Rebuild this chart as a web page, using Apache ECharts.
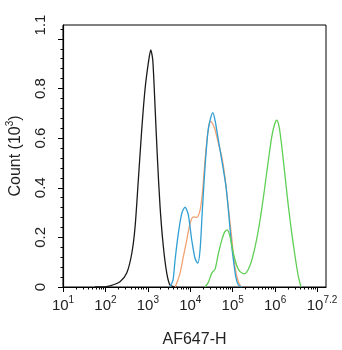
<!DOCTYPE html>
<html>
<head>
<meta charset="utf-8">
<script src="https://cdn.jsdelivr.net/npm/echarts@6/dist/echarts.min.js"></script>
<style>
  html, body { margin: 0; padding: 0; background: #fff; }
  #chart { width: 342px; height: 350px; }
</style>
</head>
<body>
<div id="chart"></div>
<script>
// x = log10(AF647-H intensity), y = count (10^3)
var blackX = [1.755, 1.873, 2.108, 2.344, 2.502, 2.620, 2.698, 2.776, 2.856, 2.934, 3.012, 3.068, 3.116, 3.170, 3.224, 3.288, 3.366, 3.446, 3.524, 3.682];
var blackY = [0, 0, 0.005, 0.021, 0.056, 0.134, 0.24, 0.432, 0.634, 0.797, 0.903, 0.956, 0.915, 0.727, 0.525, 0.324, 0.162, 0.056, 0.008, 0];

var orangeX = [3.642, 3.689, 3.759, 3.837, 3.917, 3.995, 4.073, 4.153, 4.231, 4.285, 4.349, 4.413, 4.467, 4.521, 4.585, 4.663, 4.743, 4.816, 4.894, 4.974, 5.052, 5.134, 5.198];
var orangeY = [0, 0.019, 0.056, 0.122, 0.189, 0.256, 0.283, 0.281, 0.31, 0.377, 0.512, 0.62, 0.667, 0.66, 0.634, 0.579, 0.525, 0.445, 0.327, 0.202, 0.082, 0.021, 0];

var blueX = [3.524, 3.594, 3.642, 3.719, 3.800, 3.877, 3.955, 4.035, 4.113, 4.177, 4.231, 4.285, 4.349, 4.413, 4.467, 4.531, 4.585, 4.649, 4.703, 4.781, 4.844, 4.899, 4.962, 5.017, 5.073, 5.134, 5.215];
var blueY = [0, 0.029, 0.109, 0.216, 0.297, 0.322, 0.29, 0.189, 0.115, 0.096, 0.149, 0.31, 0.485, 0.62, 0.672, 0.703, 0.672, 0.606, 0.552, 0.472, 0.403, 0.31, 0.189, 0.109, 0.041, 0.008, 0];

var greenX = [4.349, 4.427, 4.507, 4.585, 4.663, 4.743, 4.809, 4.873, 4.939, 5.017, 5.097, 5.175, 5.276, 5.410, 5.528, 5.646, 5.748, 5.842, 5.922, 5.983, 6.040, 6.094, 6.158, 6.236, 6.314, 6.394, 6.472, 6.550, 6.613];
var greenY = [0, 0.019, 0.056, 0.072, 0.135, 0.189, 0.221, 0.23, 0.202, 0.135, 0.086, 0.062, 0.053, 0.088, 0.162, 0.27, 0.391, 0.512, 0.606, 0.653, 0.672, 0.646, 0.566, 0.445, 0.324, 0.216, 0.122, 0.041, 0];

var xMin = 1, xMax = 7.2;
var xMajorTicks = [1, 2, 3, 4, 5, 6, 7];
var xLabelValues = [1, 2, 3, 4, 5, 6, 7.2];
var yMin = 0, yMax = 1.056;
var yMajorTicks = [0, 0.2, 0.4, 0.6, 0.8, 1.0];
var yLabelValues = [0, 0.2, 0.4, 0.6, 0.8, 1.056];

function pairs(xs, ys) {
  return xs.map(function (x, i) { return [x, ys[i]]; });
}

// log minor ticks (2..9 in each decade) and linear minor ticks every 0.04
var xMinorTicks = [];
for (var n = 1; n <= 7; n++) {
  for (var k = 2; k <= 9; k++) {
    var v = n + Math.log10(k);
    if (v < xMax) xMinorTicks.push(v);
  }
}
var yMinorTicks = [];
for (var i = 1; i * 0.04 < yMax; i++) {
  if (i % 5 !== 0) yMinorTicks.push(+(i * 0.04).toFixed(2));
}

var font = 'Liberation Sans';
var supRich = {
  b: { fontSize: 15, lineHeight: 18, verticalAlign: 'bottom', fontFamily: font, color: '#222' },
  s: { fontSize: 10, lineHeight: 10, verticalAlign: 'top', fontFamily: font, color: '#222' },
  // last label sits a little left of the axis end
  e: { fontSize: 10, lineHeight: 10, verticalAlign: 'top', fontFamily: font, color: '#222', padding: [0, 8, 0, 0] }
};

function lineSeries(name, xs, ys, color) {
  return {
    name: name,
    type: 'line',
    xAxisIndex: 0,
    yAxisIndex: 0,
    data: pairs(xs, ys),
    showSymbol: false,
    smooth: 0.25,
    lineStyle: { color: color, width: 1.3 },
    itemStyle: { color: color }
  };
}

var option = {
  animation: false,
  backgroundColor: '#fff',
  grid: {
    left: 63, right: 16, top: 25, bottom: 63,
    containLabel: false, outerBoundsMode: 'none',
    show: true, borderColor: '#000', borderWidth: 1
  },
  xAxis: [
    {
      type: 'value', min: xMin, max: xMax, interval: 1,
      name: 'AF647-H', nameLocation: 'middle', nameGap: 45,
      nameTextStyle: { fontSize: 16, fontFamily: font, color: '#222' },
      axisLine: { lineStyle: { color: '#000', width: 1.2 } },
      axisTick: { customValues: xMajorTicks, length: 5, lineStyle: { color: '#000' } },
      axisLabel: {
        customValues: xLabelValues, margin: 8, hideOverlap: false,
        formatter: function (v) {
          var e = Math.round(v * 10) / 10;
          return '{b|10}{' + (e === xMax ? 'e' : 's') + '|' + e + '}';
        },
        rich: supRich
      },
      splitLine: { show: false }
    },
    {
      type: 'value', min: xMin, max: xMax, position: 'bottom',
      axisLine: { show: false },
      axisTick: { customValues: xMinorTicks, length: 2.5, lineStyle: { color: '#000' } },
      axisLabel: { show: false },
      splitLine: { show: false }
    }
  ],
  yAxis: [
    {
      type: 'value', min: yMin, max: yMax, interval: 0.2,
      name: 'Count (10{s|3})', nameLocation: 'middle', nameGap: 33,
      nameTextStyle: {
        fontSize: 16, fontFamily: font, color: '#222', lineHeight: 20,
        rich: { s: { fontSize: 10, lineHeight: 10, verticalAlign: 'top', fontFamily: font, color: '#222' } }
      },
      axisLine: { lineStyle: { color: '#000', width: 1.2 } },
      axisTick: { customValues: yMajorTicks, length: 5, lineStyle: { color: '#000' } },
      axisLabel: {
        customValues: yLabelValues, rotate: 90, margin: 15,
        fontSize: 15, fontFamily: font, color: '#222',
        formatter: function (v) { return v === 0 ? '0' : v.toFixed(1); }
      },
      splitLine: { show: false }
    },
    {
      type: 'value', min: yMin, max: yMax, position: 'left',
      axisLine: { show: false },
      axisTick: { customValues: yMinorTicks, length: 2.5, lineStyle: { color: '#000' } },
      axisLabel: { show: false },
      splitLine: { show: false }
    }
  ],
  series: [
    lineSeries('control', blackX, blackY, '#1a1a1a'),
    lineSeries('orange', orangeX, orangeY, '#f2a271'),
    lineSeries('blue', blueX, blueY, '#2f9fd3'),
    lineSeries('green', greenX, greenY, '#5fcf55')
  ]
};

var chart = echarts.init(document.getElementById('chart'), null, { renderer: 'canvas' });
chart.setOption(option);
</script>
</body>
</html>
